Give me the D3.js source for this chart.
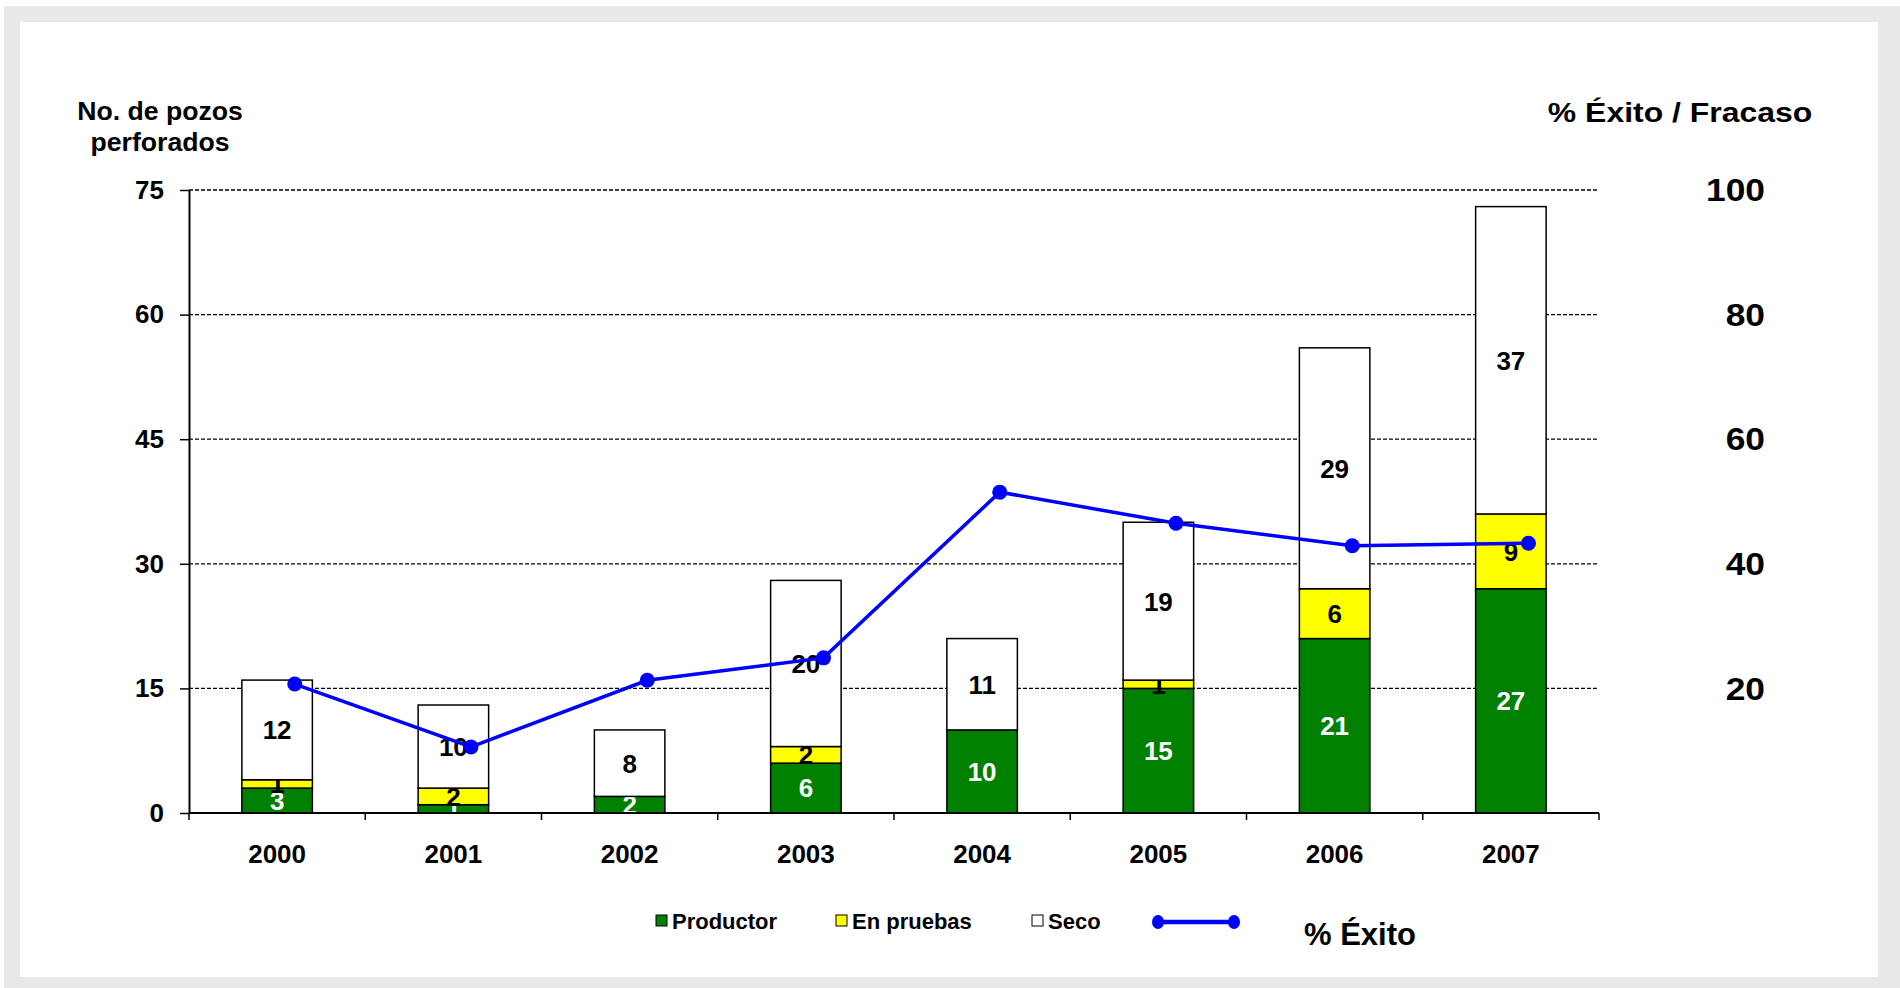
<!DOCTYPE html>
<html>
<head>
<meta charset="utf-8">
<title>Pozos perforados</title>
<style>
  body, html { margin: 0; padding: 0; background: #fff; }
  text { font-family: "Liberation Sans", Arial, sans-serif; font-weight: bold; fill: #000; }
  .grid { stroke: #000; stroke-width: 1.3; stroke-dasharray: 4 2; }
  .bar { stroke: #000; stroke-width: 1.5; }
</style>
</head>
<body>
<svg id="svg" width="1900" height="988"></svg>
<script src="https://cdn.jsdelivr.net/npm/d3@7"></script>
<script>
// data
const years = ['2000', '2001', '2002', '2003', '2004', '2005', '2006', '2007']
const productor = [3, 1, 2, 6, 10, 15, 21, 27]
const enPruebas = [1, 2, 0, 2, 0, 1, 6, 9]
const seco = [12, 10, 8, 20, 11, 19, 29, 37]
const exito = [20.7, 10.6, 21.3, 24.9, 51.5, 46.5, 42.9, 43.3]
const yTicks = [0, 15, 30, 45, 60, 75]
const y2Ticks = [20, 40, 60, 80, 100]

const keys = ['productor', 'enPruebas', 'seco']
const colors = { productor: '#008000', enPruebas: '#ffff00', seco: '#ffffff' }
const labelColors = { productor: '#fff', enPruebas: '#000', seco: '#000' }
const legendNames = { productor: 'Productor', enPruebas: 'En pruebas', seco: 'Seco' }

const table = years.map((yr, i) => ({ year: yr, productor: productor[i], enPruebas: enPruebas[i], seco: seco[i] }))

const svg = d3.select('#svg')

// frame
svg.append('rect').attr('x', 4).attr('y', 6).attr('width', 1896).attr('height', 982).attr('fill', '#e8e8e8')
svg.append('rect').attr('x', 20).attr('y', 22).attr('width', 1858).attr('height', 955).attr('fill', '#fff')

const plotLeft = 189, plotRight = 1599, plotTop = 190, plotBottom = 813

const x = d3.scaleBand().domain(years).range([plotLeft, plotRight])
const y = d3.scaleLinear().domain([0, 75]).range([plotBottom, plotTop])
const y2 = d3.scaleLinear().domain([0, 100]).range([plotBottom, plotTop])

// gridlines
svg.append('g').selectAll('line')
  .data(yTicks.filter(d => d > 0))
  .join('line')
  .attr('class', 'grid')
  .attr('x1', plotLeft).attr('x2', plotRight - 2)
  .attr('y1', d => y(d)).attr('y2', d => y(d))

// left axis
const yAxis = svg.append('g')
  .attr('transform', `translate(${plotLeft},0)`)
  .call(d3.axisLeft(y).tickValues(yTicks).tickSize(9).tickSizeOuter(0).tickPadding(16))
yAxis.select('.domain').attr('stroke', '#000').attr('stroke-width', 2)
yAxis.selectAll('.tick line').attr('stroke', '#000').attr('stroke-width', 1.5)
yAxis.selectAll('.tick text').style('font-size', '26px').style('font-family', '"Liberation Sans", Arial, sans-serif').style('font-weight', 'bold')

// right axis labels (no line)
svg.append('g').selectAll('text')
  .data(y2Ticks)
  .join('text')
  .attr('transform', d => `translate(1765,${y2(d)}) scale(1.14,1)`)
  .attr('dy', '0.36em')
  .attr('text-anchor', 'end')
  .style('font-size', '31px')
  .text(d => d)

// stacked bars
const stacked = d3.stack().keys(keys)(table)
const bw = x.bandwidth() * 0.4

const layers = svg.append('g').selectAll('g')
  .data(stacked)
  .join('g')
  .attr('fill', d => colors[d.key])

layers.selectAll('rect')
  .data(d => d.filter(s => s[1] > s[0]))
  .join('rect')
  .attr('class', 'bar')
  .attr('x', d => x(d.data.year) + (x.bandwidth() - bw) / 2)
  .attr('width', bw)
  .attr('y', d => y(d[1]))
  .attr('height', d => y(d[0]) - y(d[1]))

// x axis
svg.append('line')
  .attr('x1', plotLeft).attr('x2', plotRight)
  .attr('y1', plotBottom).attr('y2', plotBottom)
  .attr('stroke', '#000').attr('stroke-width', 2)

svg.append('g').selectAll('line')
  .data(years.map(d => x(d)).concat([plotRight]))
  .join('line')
  .attr('x1', d => d).attr('x2', d => d)
  .attr('y1', plotBottom).attr('y2', plotBottom + 7)
  .attr('stroke', '#000').attr('stroke-width', 1.5)

svg.append('g').selectAll('text')
  .data(years)
  .join('text')
  .attr('x', d => x(d) + x.bandwidth() / 2)
  .attr('y', 863)
  .attr('text-anchor', 'middle')
  .style('font-size', '26px')
  .text(d => d)

// segment labels
layers.each(function (layer) {
  d3.select(this).selectAll('text')
    .data(layer.filter(s => s[1] > s[0]))
    .join('text')
    .attr('x', d => x(d.data.year) + x.bandwidth() / 2)
    .attr('y', d => y((d[0] + d[1]) / 2))
    .attr('dy', '0.36em')
    .attr('text-anchor', 'middle')
    .style('font-size', '26px')
    .style('fill', labelColors[layer.key])
    .text(d => d[1] - d[0])
})

// % exito line
const shift = x.bandwidth() * 0.1
const line = d3.line()
  .x((d, i) => x(years[i]) + x.bandwidth() / 2 + shift)
  .y(d => y2(d))

svg.append('path')
  .datum(exito)
  .attr('d', line)
  .attr('fill', 'none')
  .attr('stroke', '#0000ff')
  .attr('stroke-width', 3.5)

svg.append('g').selectAll('circle')
  .data(exito)
  .join('circle')
  .attr('cx', (d, i) => x(years[i]) + x.bandwidth() / 2 + shift)
  .attr('cy', d => y2(d))
  .attr('r', 7.5)
  .attr('fill', '#0000ff')

// axis titles
const t1 = svg.append('text')
  .attr('transform', 'translate(160,120) scale(1.065,1)')
  .attr('text-anchor', 'middle')
  .style('font-size', '25px')
t1.append('tspan').attr('x', 0).attr('y', 0).text('No. de pozos')
t1.append('tspan').attr('x', 0).attr('y', 31).text('perforados')

svg.append('text')
  .attr('transform', 'translate(1680,122) scale(1.14,1)')
  .attr('text-anchor', 'middle')
  .style('font-size', '28px')
  .text('% Éxito / Fracaso')

// legend
const legendX = { productor: 656, enPruebas: 836, seco: 1032 }
const lg = svg.append('g')
keys.forEach(k => {
  lg.append('rect')
    .attr('x', legendX[k]).attr('y', 915)
    .attr('width', 11).attr('height', 11)
    .attr('fill', colors[k]).attr('stroke', '#000').attr('stroke-width', 1)
  lg.append('text')
    .attr('x', legendX[k] + 16).attr('y', 929)
    .style('font-size', '22px')
    .text(legendNames[k])
})
lg.append('line')
  .attr('x1', 1158).attr('x2', 1234).attr('y1', 922).attr('y2', 922)
  .attr('stroke', '#0000ff').attr('stroke-width', 4.5)
;[1158, 1234].forEach(cx => {
  lg.append('ellipse').attr('cx', cx).attr('cy', 922).attr('rx', 6).attr('ry', 7).attr('fill', '#0000ff')
})
lg.append('text')
  .attr('x', 1304).attr('y', 945)
  .style('font-size', '31px')
  .text('% Éxito')
</script>
</body>
</html>
